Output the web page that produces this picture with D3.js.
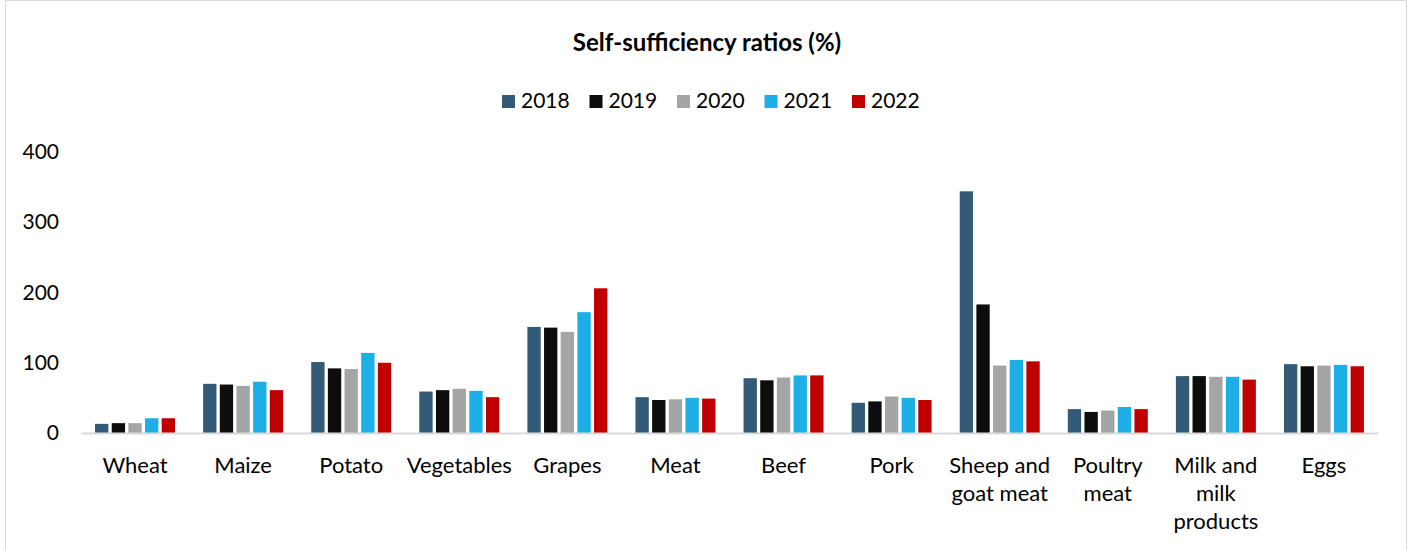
<!DOCTYPE html>
<html>
<head>
<meta charset="utf-8">
<script src="https://cdn.jsdelivr.net/npm/d3@7"></script>
<style>
  body { margin: 0; background: #fff; }
  svg { display: block; font-family: Lato, "Open Sans", sans-serif; }
</style>
</head>
<body>
<svg id="chart" width="1408" height="550"></svg>
<script>
// categories and their wrapped tick labels
const categories = ["Wheat", "Maize", "Potato", "Vegetables", "Grapes", "Meat", "Beef", "Pork",
  "Sheep and goat meat", "Poultry meat", "Milk and milk products", "Eggs"];
const categoryLines = [["Wheat"], ["Maize"], ["Potato"], ["Vegetables"], ["Grapes"], ["Meat"], ["Beef"], ["Pork"],
  ["Sheep and", "goat meat"], ["Poultry", "meat"], ["Milk and", "milk", "products"], ["Eggs"]];

const years = ["2018", "2019", "2020", "2021", "2022"];
const yearColors = ["#335b77", "#0d0d0d", "#a5a5a5", "#1caee4", "#c00000"];

// self-sufficiency ratio (%) per year, same order as categories
const v2018 = [13, 70, 101, 59, 151, 51, 78, 43, 344, 34, 81, 98];
const v2019 = [14, 69, 92, 61, 150, 47, 75, 45, 183, 30, 81, 95];
const v2020 = [14, 67, 91, 63, 144, 48, 79, 52, 96, 32, 80, 96];
const v2021 = [21, 73, 114, 60, 172, 50, 82, 50, 104, 37, 80, 97];
const v2022 = [21, 61, 100, 51, 206, 49, 82, 47, 102, 34, 76, 95];
const seriesValues = [v2018, v2019, v2020, v2021, v2022];

const yTicks = [0, 100, 200, 300, 400];

const svg = d3.select("#chart");

// outer frame
svg.append("rect")
  .attr("x", 5.5).attr("y", 0.5)
  .attr("width", 1401).attr("height", 560)
  .attr("fill", "none")
  .attr("stroke", "#d9d9d9");

// title
svg.append("text")
  .attr("x", 707).attr("y", 51)
  .attr("text-anchor", "middle")
  .attr("font-weight", "bold")
  .attr("font-size", 24)
  .text("Self-sufficiency ratios (%)");

/** scales */
const x0 = d3.scaleBand()
  .domain(categories)
  .range([81, 1378])
  .paddingInner(0.26)
  .paddingOuter(0.13);

const x1 = d3.scaleBand()
  .domain(years)
  .range([0, x0.bandwidth()])
  .paddingInner(0.2)
  .paddingOuter(0);

const y = d3.scaleLinear()
  .domain([0, 400])
  .range([433, 152]);

const color = d3.scaleOrdinal().domain(years).range(yearColors);

// y axis labels only (no line, no gridlines)
const yAxis = svg.append("g")
  .attr("transform", "translate(59,0)")
  .call(d3.axisLeft(y).tickValues(yTicks).tickSize(0).tickPadding(0));
yAxis.select(".domain").remove();
yAxis.selectAll("text")
  .attr("font-family", "Lato, 'Open Sans', sans-serif")
  .attr("font-size", 21)
  .attr("fill", "#000");

// bars
const rows = categories.map((c, i) => ({ cat: c, vals: years.map((yr, j) => ({ year: yr, value: seriesValues[j][i] })) }));

const groups = svg.selectAll(".cat_group").data(rows).join("g")
  .attr("class", "cat_group")
  .attr("transform", d => `translate(${x0(d.cat)},0)`);

groups.selectAll("rect").data(d => d.vals).join("rect")
  .attr("x", d => x1(d.year))
  .attr("y", d => y(d.value))
  .attr("width", x1.bandwidth())
  .attr("height", d => y(0) - y(d.value))
  .attr("fill", d => color(d.year));

// x axis line + category labels
const xAxis = svg.append("g")
  .attr("transform", `translate(0,${y(0)})`)
  .call(d3.axisBottom(x0).tickSize(0).tickFormat(""));
xAxis.select(".domain")
  .attr("stroke", "#d9d9d9")
  .attr("stroke-width", 2);

svg.selectAll(".cat_label").data(categories).join("text")
  .attr("class", "cat_label")
  .attr("text-anchor", "middle")
  .attr("font-size", 22)
  .attr("x", d => x0(d) + x0.bandwidth() / 2)
  .attr("y", 473)
  .each(function(d, i) {
    d3.select(this).selectAll("tspan").data(categoryLines[i]).join("tspan")
      .attr("x", x0(d) + x0.bandwidth() / 2)
      .attr("dy", (t, k) => k === 0 ? 0 : 28)
      .text(t => t);
  });

// legend
const legend = svg.append("g").attr("transform", "translate(502,0)");
const items = legend.selectAll("g").data(years).join("g")
  .attr("transform", (d, i) => `translate(${i * 87.5},0)`);
items.append("rect")
  .attr("x", 0).attr("y", 95)
  .attr("width", 13).attr("height", 13)
  .attr("fill", d => color(d));
items.append("text")
  .attr("x", 19).attr("y", 108)
  .attr("font-size", 21)
  .text(d => d);
</script>
</body>
</html>
